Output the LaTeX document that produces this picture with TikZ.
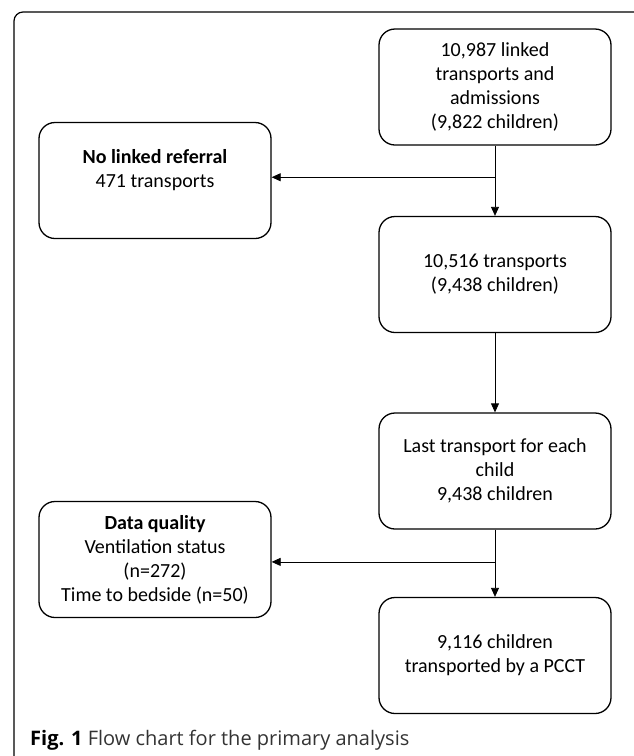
\documentclass[tikz,border=0pt]{standalone}
\usepackage{fontspec}
\setmainfont{Carlito}
\newfontfamily\capfont{Open Sans}
\usepackage{tikz}
\usetikzlibrary{arrows.meta,calc}

\begin{document}
\begin{tikzpicture}[x=1pt, y=-1pt, >={Triangle[length=9pt,width=8pt]},
  font=\fontsize{20}{24}\selectfont,
  flowbox/.style={draw, line width=1.3pt, rounded corners=16pt, minimum width=232pt, minimum height=116pt, align=center, inner sep=0pt},
  flowline/.style={line width=0.8pt}]
\useasboundingbox (0,0) rectangle (633,756);
\draw[line width=1.2pt, rounded corners=9pt] (14,12) rectangle (650,775);
% right column
\node[flowbox] (linked) at (495,87) {10,987 linked\\transports and\\admissions\\(9,822 children)};
\node[flowbox] (transp) at (495,274.5) {10,516 transports\\(9,438 children)};
\node[flowbox] (last) at (495,471) {Last transport for each\\child\\9,438 children};
\node[flowbox] (pcct) at (495,655.5) {9,116 children\\transported by a PCCT};
% left column
\node[flowbox] (noref) at (155,180.5) {\textbf{No linked referral}\\471 transports\\~};
\node[flowbox] (quality) at (155,559.5) {\textbf{Data quality}\\Ventilation status\\(n=272)\\Time to bedside (n=50)};
% connectors
\coordinate (split1) at ($(linked.south)!.45!(transp.north)$);
\coordinate (split2) at ($(last.south)!.48!(pcct.north)$);
\draw[flowline,->] (linked) -- (transp);
\draw[flowline,->] (split1) -- (split1 -| noref.east);
\draw[flowline,->] (transp) -- (last);
\draw[flowline,->] (last) -- (pcct);
\draw[flowline,->] (split2) -- (split2 -| quality.east);
\node[anchor=west, inner sep=0pt, text=black!80, font=\capfont\fontsize{20}{24}\selectfont] (caption) at (30,740) {\textcolor{black}{\textbf{Fig. 1}} Flow chart for the primary analysis};
\end{tikzpicture}
\end{document}
